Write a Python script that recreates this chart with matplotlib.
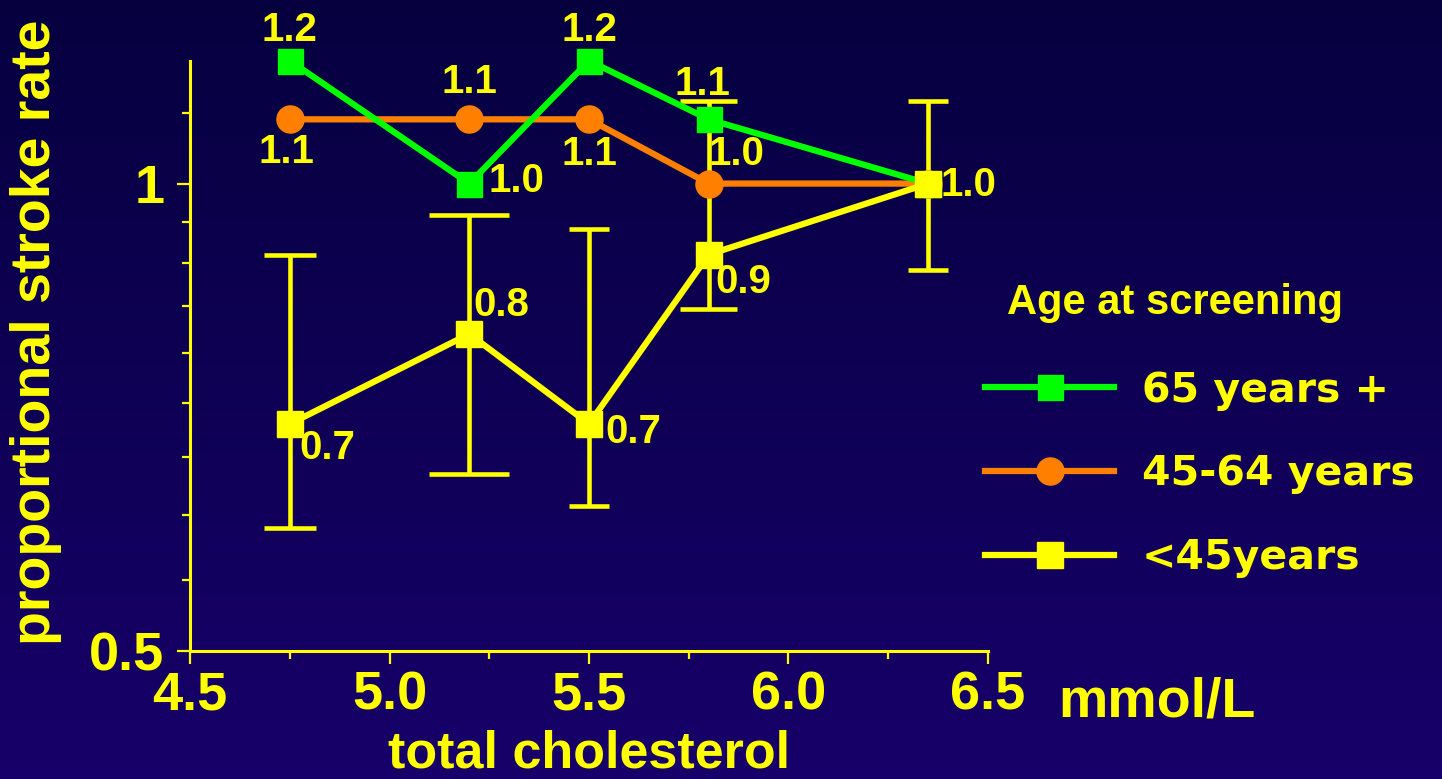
import numpy as np
import matplotlib
matplotlib.use('Agg')
import matplotlib.pyplot as plt
from matplotlib.colors import LinearSegmentedColormap
from matplotlib.ticker import FixedLocator, FixedFormatter, NullFormatter

plt.rcParams['font.family'] = ['Liberation Sans', 'DejaVu Sans']
plt.rcParams['font.weight'] = 'bold'

YELLOW = '#ffff00'
GREEN = '#00ff00'
ORANGE = '#ff8000'

# data
cholesterol = [4.75, 5.2, 5.5, 5.8, 6.35]
rate_65plus = [1.2, 1.0, 1.2, 1.1, 1.0]
rate_45_64 = [1.1, 1.1, 1.1, 1.0, 1.0]
rate_under45 = [0.7, 0.8, 0.7, 0.9, 1.0]
ci_low_under45 = [0.60, 0.65, 0.62, 0.83, 0.88]
ci_high_under45 = [0.90, 0.955, 0.935, 1.13, 1.13]

series_labels = ['65 years +', '45-64 years', '<45years']
x_ticks = [4.5, 5.0, 5.5, 6.0, 6.5]
x_tick_labels = ['4.5', '5.0', '5.5', '6.0', '6.5']
x_minor = [4.75, 5.25, 5.75, 6.25]
y_ticks = [0.5, 1.0]
y_tick_labels = ['0.5', '1']
y_minor = [0.5556, 0.6111, 0.6667, 0.7222, 0.7778, 0.8333, 0.8889, 0.9444, 1.1111]

# value label offsets (pixels), None -> label not drawn
off_65 = [(0, 31), (47, 3), (0, 31), (-6, 35), (40, -1)]
off_45 = [(-3, -33), (0, 37), (0, -35), (28, 30), None]
off_u45 = [(38, -24), (32, 29), (44, -8), (35, -27), None]
cap_half = [0.065, 0.10, 0.05, 0.072, 0.05]

fig = plt.figure(figsize=(14.42, 7.79), dpi=100)

# gradient background
bg = fig.add_axes([0, 0, 1, 1], zorder=-10)
grad = np.linspace(0, 1, 256).reshape(-1, 1)
cmap = LinearSegmentedColormap.from_list('bg', ['#06003f', '#17006a'])
bg.imshow(grad, aspect='auto', cmap=cmap, extent=[0, 1, 0, 1], origin='upper')
bg.axis('off')

ax = fig.add_axes([190/1442, 1 - 650.7/779, 798/1442, 590/779])
ax.set_facecolor('none')
ax.set_yscale('log')
ax.set_xlim(4.5, 6.5)
ax.set_ylim(0.5, 1.2)

# error bars for <45 group
x = np.array(cholesterol)
h = np.array(cap_half)
ax.vlines(x, ci_low_under45, ci_high_under45, color=YELLOW, lw=3.3, zorder=2)
ax.hlines(ci_low_under45, x - h, x + h, color=YELLOW, lw=3.3, zorder=2)
ax.hlines(ci_high_under45, x - h, x + h, color=YELLOW, lw=3.3, zorder=2)

l45, = ax.plot(cholesterol, rate_45_64, color=ORANGE, lw=4.5, marker='o', ms=19.5,
               mec=ORANGE, zorder=3, clip_on=False)
l65, = ax.plot(cholesterol, rate_65plus, color=GREEN, lw=4.5, marker='s', ms=18,
               mec=GREEN, zorder=4, clip_on=False)
lu45, = ax.plot(cholesterol, rate_under45, color=YELLOW, lw=4.5, marker='s', ms=19,
                mec=YELLOW, zorder=5, clip_on=False)

for vals, offs in [(rate_65plus, off_65), (rate_45_64, off_45), (rate_under45, off_u45)]:
    for xv, v, off in zip(cholesterol, vals, offs):
        if off is None:
            continue
        ax.annotate(f'{v:.1f}', (xv, v), xytext=off, textcoords='offset pixels',
                    ha='center', va='center', fontsize=29, color=YELLOW,
                    fontweight='bold', zorder=10, annotation_clip=False)

# axes styling
for side in ['top', 'right']:
    ax.spines[side].set_visible(False)
for side in ['left', 'bottom']:
    ax.spines[side].set_color(YELLOW)
    ax.spines[side].set_linewidth(2.2)

ax.xaxis.set_major_locator(FixedLocator(x_ticks))
ax.xaxis.set_major_formatter(FixedFormatter(x_tick_labels))
ax.xaxis.set_minor_locator(FixedLocator(x_minor))
ax.yaxis.set_major_locator(FixedLocator(y_ticks))
ax.yaxis.set_major_formatter(FixedFormatter(y_tick_labels))
ax.yaxis.set_minor_locator(FixedLocator(y_minor))
ax.yaxis.set_minor_formatter(NullFormatter())

ax.tick_params(which='major', colors=YELLOW, width=1.6, length=9.5, labelsize=39)
ax.tick_params(which='minor', colors=YELLOW, width=1.6, length=5.5)
ax.tick_params(axis='x', which='major', pad=5)
ax.tick_params(axis='y', which='major', pad=9)

fig.text(589/1442, 1 - 768/779, 'total cholesterol', fontsize=37.5, color=YELLOW,
         fontweight='bold', ha='center', va='baseline')
fig.text(1058/1442, 1 - 716/779, 'mmol/L', fontsize=40, color=YELLOW,
         ha='left', va='baseline')
fig.text(36/1442, 1 - 332/779, 'proportional stroke rate', rotation=90,
         fontsize=40, color=YELLOW, ha='center', va='center')

# legend
fig.text(1007/1442, 1 - 303/779, 'Age at screening', fontsize=30, color=YELLOW,
         ha='left', va='center')
ax.legend(handles=[l65, l45, lu45], labels=series_labels, loc='center left',
          bbox_to_anchor=(985/1442, 1 - 474.5/779), bbox_transform=fig.transFigure,
          frameon=False, prop=dict(family='DejaVu Sans', weight='bold', size=29.5),
          labelcolor=YELLOW, handlelength=3.15, handletextpad=0.68, labelspacing=1.07,
          borderpad=0, borderaxespad=0, numpoints=1)

fig.savefig('out.png', dpi=100)
